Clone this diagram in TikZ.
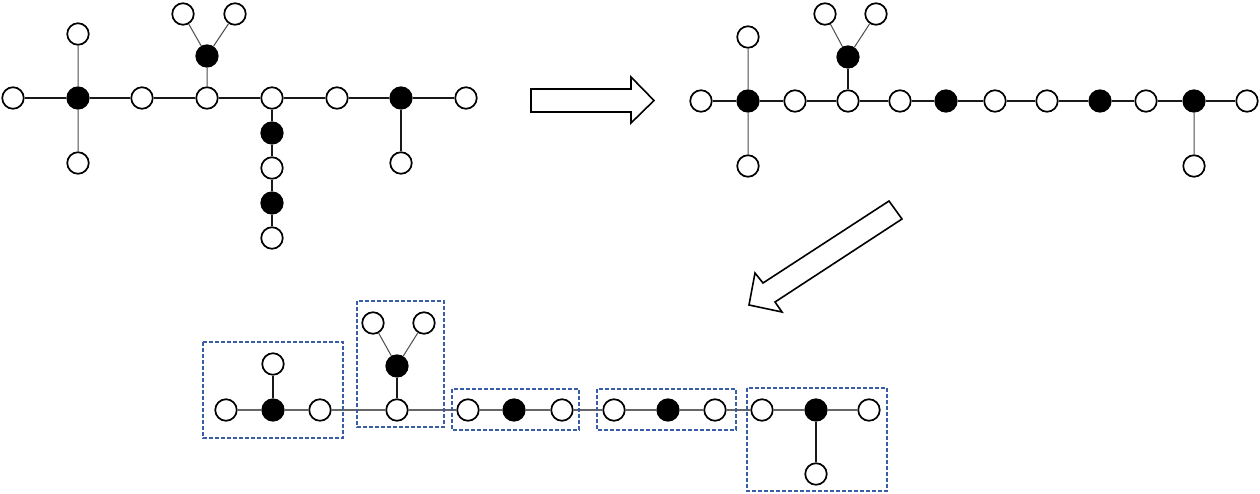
\documentclass[tikz,border=0pt]{standalone}
\usetikzlibrary{positioning}
\definecolor{boxblue}{HTML}{3A5DA8}
\tikzset{
  wn/.style={circle,draw=black,fill=white,line width=1.7pt,minimum size=21.5pt,inner sep=0pt},
  bn/.style={circle,draw=black,fill=black,line width=1.7pt,minimum size=21.5pt,inner sep=0pt},
  edge/.style={draw=black!90,line width=1.2pt},
  thinedge/.style={draw=black!70,line width=1pt},
  rowedge/.style={draw=black!60,line width=1.3pt},
  grpbox/.style={draw=boxblue,line width=1.5pt,dash pattern=on 4pt off 2pt},
  bigarrow/.style={draw=black,fill=white,line width=1.6pt,line join=miter}
}
\begin{document}
\begin{tikzpicture}[x=1pt,y=-1pt]
\useasboundingbox (0,0) rectangle (1260,493);
% ---------- top-left tree ----------
\node[wn] (a1) at (13,98) {};
\node[bn] (a2) at (78,98) {};
\node[wn] (a3) at (142,98) {};
\node[wn] (a4) at (207,98) {};
\node[wn] (a5) at (272,98) {};
\node[wn] (a6) at (337,98) {};
\node[bn] (a7) at (401,98) {};
\node[wn] (a8) at (466,98) {};
\node[wn] (a2u) at (78,34) {};
\node[wn] (a2d) at (78,163) {};
\node[bn] (a4u) at (207,56) {};
\node[wn] (a4l) at (183,14) {};
\node[wn] (a4r) at (235,14) {};
\node[bn] (a5d1) at (272,133) {};
\node[wn] (a5d2) at (272,168) {};
\node[bn] (a5d3) at (272,203) {};
\node[wn] (a5d4) at (272,238) {};
\node[wn] (a7d) at (401,163) {};
\draw[edge] (a1)--(a2) (a2)--(a3) (a3)--(a4) (a4)--(a5) (a5)--(a6) (a6)--(a7) (a7)--(a8);
\draw[thinedge] (a2)--(a2u) (a2)--(a2d) (a4)--(a4u) (a4u)--(a4l) (a4u)--(a4r);
\draw[edge] (a5)--(a5d1) (a5d1)--(a5d2) (a5d2)--(a5d3) (a5d3)--(a5d4) (a7)--(a7d);
% ---------- right arrow ----------
\draw[bigarrow] (531,89) -- (631,89) -- (631,77) -- (654,100.5) -- (631,123) -- (631,112) -- (531,112) -- cycle;
% ---------- top-right chain ----------
\node[wn] (b1) at (701,101) {};
\node[bn] (b2) at (748,101) {};
\node[wn] (b3) at (795,101) {};
\node[wn] (b4) at (848,101) {};
\node[wn] (b5) at (900,101) {};
\node[bn] (b6) at (946,101) {};
\node[wn] (b7) at (995,101) {};
\node[wn] (b8) at (1047,101) {};
\node[bn] (b9) at (1100,101) {};
\node[wn] (b10) at (1146,101) {};
\node[bn] (b11) at (1194,101) {};
\node[wn] (b12) at (1247,101) {};
\node[wn] (b2u) at (748,37) {};
\node[wn] (b2d) at (748,166) {};
\node[bn] (b4u) at (848,57) {};
\node[wn] (b4l) at (825,14) {};
\node[wn] (b4r) at (876,14) {};
\node[wn] (b11d) at (1194,166) {};
\draw[edge] (b1)--(b2) (b2)--(b3) (b3)--(b4) (b4)--(b5) (b5)--(b6) (b6)--(b7) (b7)--(b8) (b8)--(b9) (b9)--(b10) (b10)--(b11) (b11)--(b12);
\draw[thinedge] (b2)--(b2u) (b2)--(b2d) (b4u)--(b4l) (b4u)--(b4r) (b11)--(b11d);
\draw[edge] (b4)--(b4u);
% ---------- diagonal arrow ----------
\draw[bigarrow] (889,201) -- (902,219) -- (775,302) -- (782,312) -- (749,305) -- (755,273) -- (763,283) -- cycle;
% ---------- bottom groups ----------
\node[wn] (c1) at (226,410) {};
\node[bn] (c2) at (273,410) {};
\node[wn] (c3) at (320,410) {};
\node[wn] (c2u) at (273,364) {};
\node[wn] (c4) at (397,410) {};
\node[bn] (c4u) at (397,366) {};
\node[wn] (c4l) at (373,323) {};
\node[wn] (c4r) at (424,323) {};
\node[wn] (c5) at (468,410) {};
\node[bn] (c6) at (514,410) {};
\node[wn] (c7) at (562,410) {};
\node[wn] (c8) at (614,410) {};
\node[bn] (c9) at (668,410) {};
\node[wn] (c10) at (715,410) {};
\node[wn] (c11) at (762,410) {};
\node[bn] (c12) at (816,410) {};
\node[wn] (c13) at (869,410) {};
\node[wn] (c12d) at (816,474) {};
\draw[rowedge] (c1)--(c2) (c2)--(c3) (c3)--(c4) (c4)--(c5) (c5)--(c6) (c6)--(c7) (c7)--(c8) (c8)--(c9) (c9)--(c10) (c10)--(c11) (c11)--(c12) (c12)--(c13);
\draw[edge] (c2)--(c2u) (c4)--(c4u) (c12)--(c12d);
\draw[thinedge] (c4u)--(c4l) (c4u)--(c4r);
\draw[grpbox] (203,342) rectangle (343,438);
\draw[grpbox] (357,301) rectangle (444,427);
\draw[grpbox] (452,389) rectangle (579,430);
\draw[grpbox] (597,389) rectangle (736,430);
\draw[grpbox] (747,388) rectangle (887,491);
\end{tikzpicture}
\end{document}
